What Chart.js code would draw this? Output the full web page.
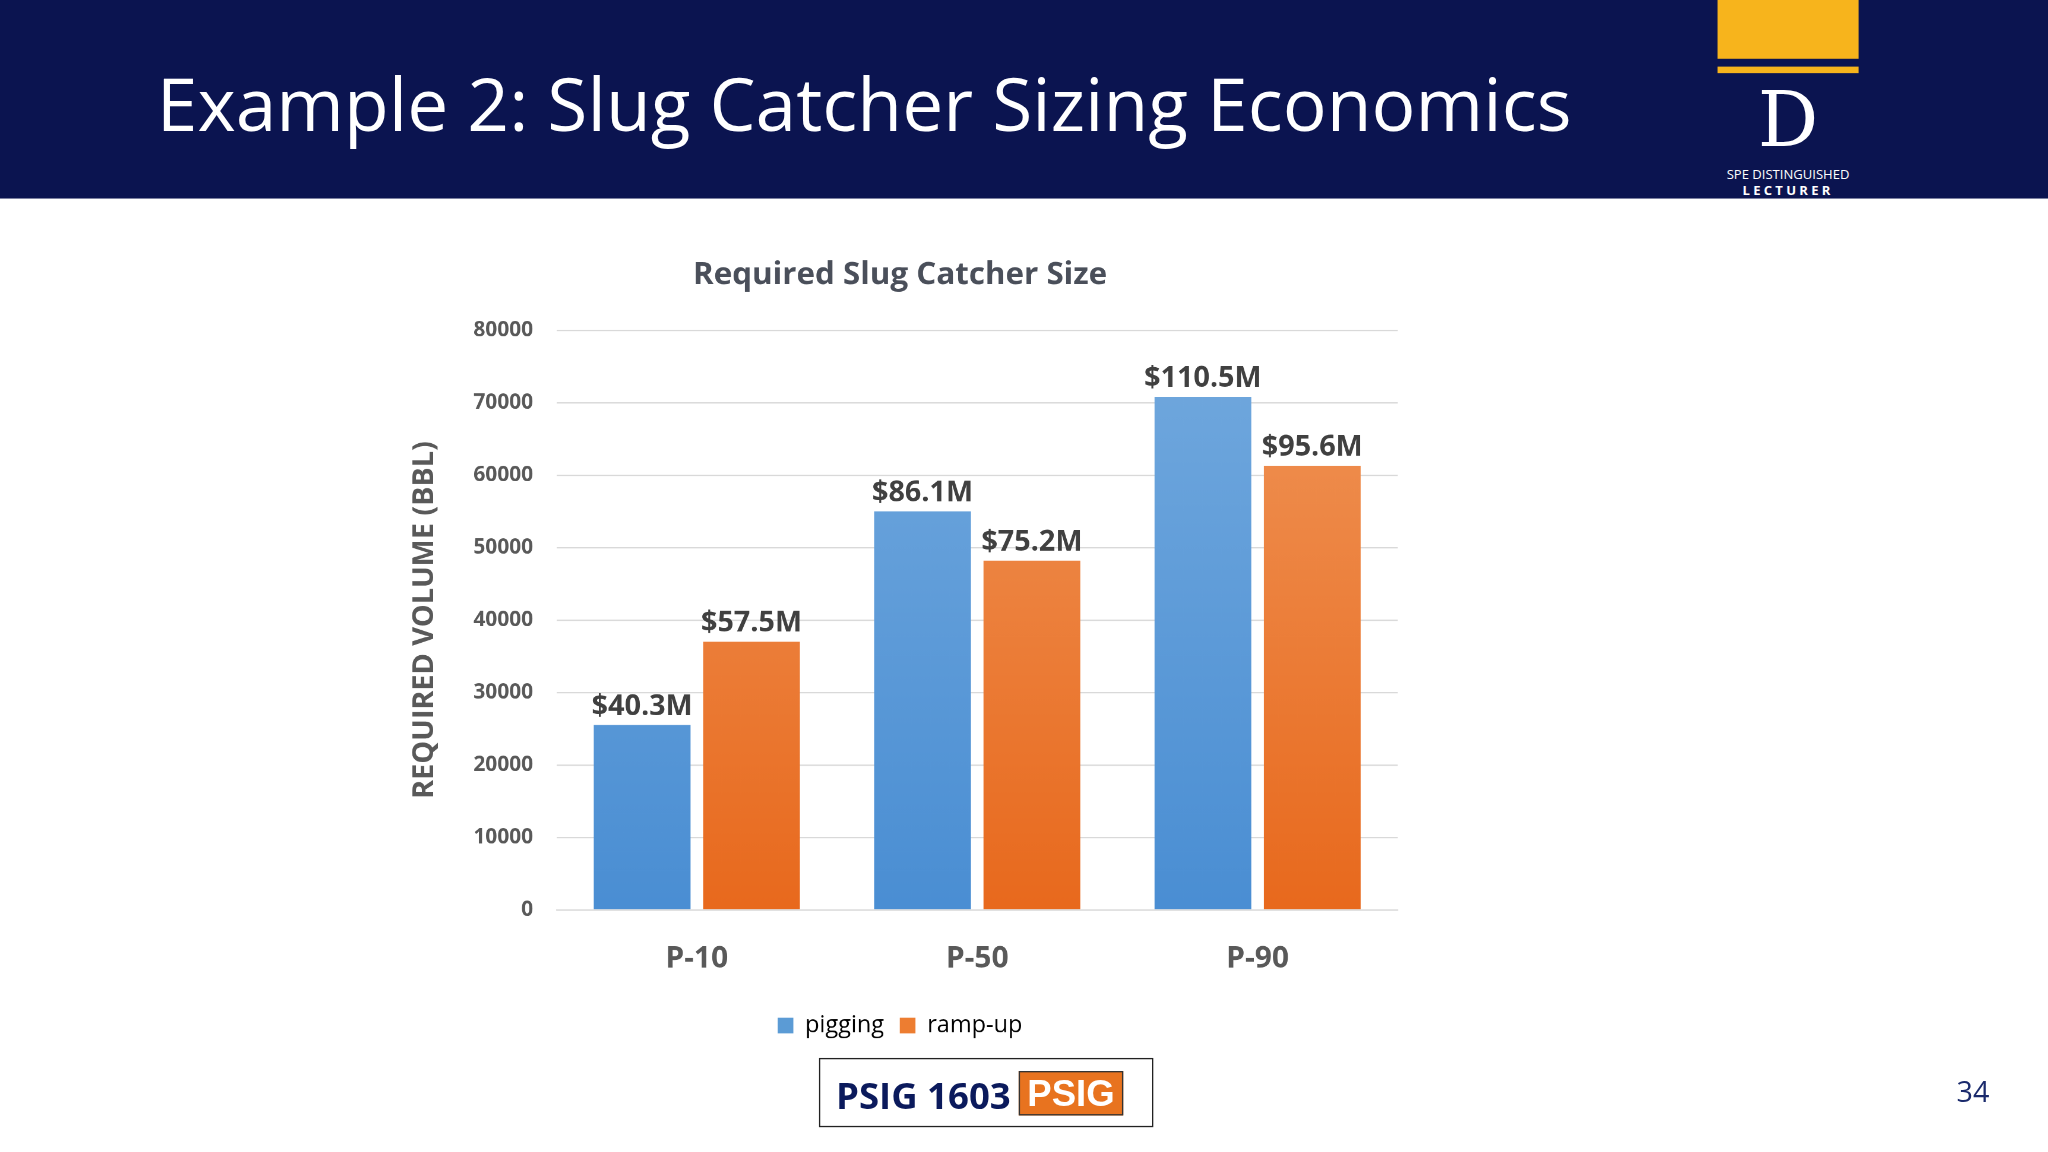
<!DOCTYPE html>
<html><head><meta charset="utf-8">
<script src="https://cdn.jsdelivr.net/npm/chart.js@4/dist/chart.umd.min.js"></script>
<style>
html,body{margin:0;padding:0;background:#fff;overflow:hidden}
#wrap{position:absolute;left:0;top:0;width:1568px;height:882px;transform:scale(1.30612);transform-origin:0 0;font-family:"Open Sans",sans-serif}
#hdr{position:absolute;left:0;top:0;width:1568px;height:152px;background:#0b1450}
#title{position:absolute;left:120px;top:40px;color:#fff;font-size:56px;font-family:"Open Sans",sans-serif;white-space:nowrap}
#logoY{position:absolute;left:1315px;top:0;width:108px;height:45px;background:#f7b41c}
#logoL{position:absolute;left:1315px;top:51px;width:108px;height:5px;background:#f7b41c}
#logoD{position:absolute;left:1315px;top:60px;width:108px;text-align:center;color:#fff;font-family:"DejaVu Serif",serif;font-size:58px;line-height:64px}
#logoT1{position:absolute;left:1305px;top:126px;width:128px;text-align:center;color:#fff;font-size:10px}
#logoT2{position:absolute;left:1305px;top:138px;width:128px;text-align:center;color:#fff;font-size:10px;letter-spacing:2.5px;font-weight:bold}
#chartBox{position:absolute;left:308px;top:192px;width:792px;height:612px}
#psig{position:absolute;left:627px;top:810px;width:256px;height:53px;border:1.5px solid #222;box-sizing:border-box}
#psigT{position:absolute;left:12px;top:8px;font-size:28px;font-weight:bold;color:#0b1a5c;font-family:"Open Sans",sans-serif}
#psigL{position:absolute;left:152px;top:9px;width:80px;height:34px;background:#e8731f;color:#fff;font-weight:bold;font-size:28px;line-height:34px;text-align:center;font-family:"Liberation Sans",sans-serif;border:1px solid #333;box-sizing:border-box}
#pg{position:absolute;left:1498px;top:820px;font-size:22px;color:#1a2a6c}
</style></head><body>
<div id="wrap">
<div id="hdr"></div>
<div id="title">Example 2: Slug Catcher Sizing Economics</div>
<div id="logoY"></div><div id="logoL"></div>
<div id="logoD">D</div>
<div id="logoT1">SPE DISTINGUISHED</div>
<div id="logoT2">LECTURER</div>
<div id="chartBox"><canvas id="c"></canvas></div>
<div id="psig"><div id="psigT">PSIG 1603</div><div id="psigL">PSIG</div></div>
<div id="pg">34</div>
</div>
<script>
const categories = ["P-10","P-50","P-90"];
const pigging = [25500, 55000, 70800];
const rampUp = [37000, 48200, 61300];
const piggingLabels = ["$40.3M","$86.1M","$110.5M"];
const rampUpLabels = ["$57.5M","$75.2M","$95.6M"];
const yTicks = [0,10000,20000,30000,40000,50000,60000,70000,80000];

function grad(c1,c2){
  return (ctx)=>{const ch=ctx.chart, a=ch.chartArea; if(!a) return c2;
    const g=ch.ctx.createLinearGradient(0,a.top,0,a.bottom); g.addColorStop(0,c1); g.addColorStop(1,c2); return g;};
}
const labelPlugin={id:'lbl',afterDatasetsDraw(chart){
  const ctx=chart.ctx; ctx.save(); ctx.font='bold 22px "Open Sans"'; ctx.fillStyle='#404040'; ctx.textAlign='center'; ctx.textBaseline='bottom';
  [piggingLabels,rampUpLabels].forEach((labs,di)=>{chart.getDatasetMeta(di).data.forEach((b,i)=>{ctx.fillText(labs[i],b.x,b.y-3);});});
  ctx.restore();}};
new Chart(document.getElementById('c'),{
  type:'bar',
  data:{labels:categories,datasets:[
    {label:'pigging',data:pigging,backgroundColor:grad('#72a9de','#4a8ed3')},
    {label:'ramp-up',data:rampUp,backgroundColor:grad('#f09558','#e8691d')}]},
  options:{responsive:true,maintainAspectRatio:false,animation:false,devicePixelRatio:2.2,
    layout:{padding:{top:0,right:30,left:0,bottom:0}},
    categoryPercentage:0.78,barPercentage:0.885,
    plugins:{
      title:{display:true,text:'Required Slug Catcher Size',color:'#4a4f5a',font:{family:'Open Sans',size:24,weight:'bold'},padding:{top:4,bottom:28}},
      legend:{position:'bottom',labels:{boxWidth:12,boxHeight:12,color:'#595959',font:{family:'Open Sans',size:18},padding:12,
        generateLabels:(ch)=>[{text:'pigging',fillStyle:'#5b9bd5',strokeStyle:'#5b9bd5',lineWidth:0,datasetIndex:0},{text:'ramp-up',fillStyle:'#ed7d31',strokeStyle:'#ed7d31',lineWidth:0,datasetIndex:1}]}},
      tooltip:{enabled:false}},
    scales:{
      x:{grid:{display:false},border:{color:'#d9d9d9'},ticks:{color:'#595959',font:{family:'Open Sans',size:23,weight:'bold'},padding:16}},
      y:{min:0,max:80000,afterBuildTicks:(ax)=>{ax.ticks=yTicks.map(v=>({value:v}));},
        grid:{color:'#d9d9d9',drawTicks:false},border:{display:false},
        ticks:{color:'#595959',font:{family:'Open Sans',size:16,weight:'bold'},padding:18,callback:v=>String(v)},
        title:{display:true,text:'REQUIRED VOLUME (BBL)',color:'#595959',font:{family:'Open Sans',size:22,weight:'bold'},padding:{bottom:6}}}}},
  plugins:[labelPlugin]});
</script>
</body></html>
